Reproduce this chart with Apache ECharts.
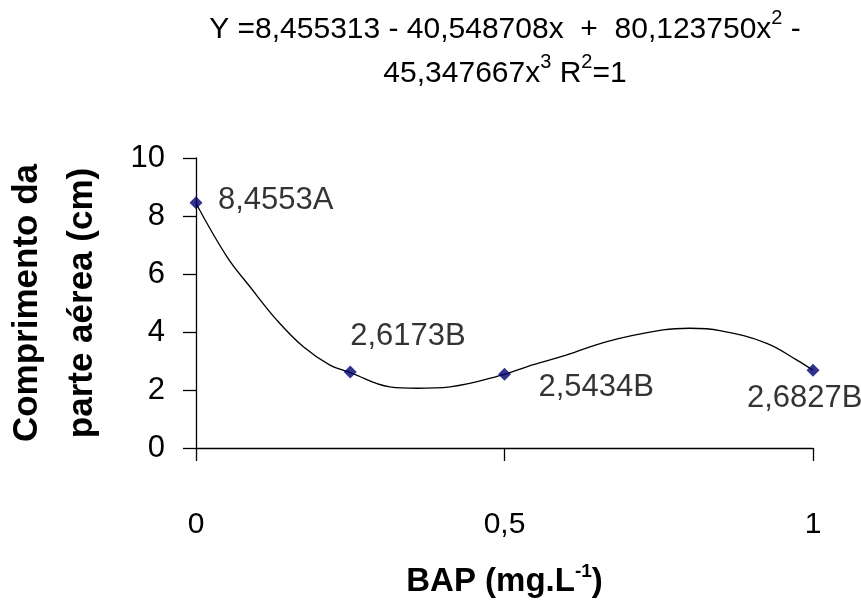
<!DOCTYPE html>
<html>
<head>
<meta charset="utf-8">
<script src="https://cdn.jsdelivr.net/npm/echarts@6/dist/echarts.min.js"></script>
<style>
  html, body { margin: 0; padding: 0; background: #fff; }
  #chart { width: 861px; height: 605px; }
</style>
</head>
<body>
<div id="chart"></div>
<script>
// Observed treatment means
var doseX = [0, 0.25, 0.5, 1];
var meanY = [8.4553, 2.6173, 2.5434, 2.6827];
var meanLabels = ['8,4553A', '2,6173B', '2,5434B', '2,6827B'];

// Fitted curve
var curveX = [0, 0.05, 0.0875, 0.131, 0.174, 0.217, 0.25, 0.314, 0.358, 0.412, 0.5, 0.536, 0.6, 0.666, 0.757, 0.80, 0.849, 0.925, 0.974, 1];
var curveY = [8.44, 6.6, 5.56, 4.41, 3.49, 2.86, 2.6, 2.11, 2.06, 2.11, 2.54, 2.80, 3.2, 3.67, 4.07, 4.13, 4.05, 3.61, 3.03, 2.68];

// Axis ticks
var xTicks = [0, 0.5, 1];
var yTicks = [0, 2, 4, 6, 8, 10];

var FONT = '"Liberation Sans", Arial, sans-serif';

var chart = echarts.init(document.getElementById('chart'), null, { renderer: 'canvas' });

var labelPlacement = [
  { position: [28.5, 4] },
  { position: [6.5, -29.5] },
  { position: [40.5, 19.5] },
  { position: [-59.5, 34.5] }
];

var pointData = doseX.map(function (x, i) {
  return {
    value: [x, meanY[i]],
    label: {
      show: true,
      position: labelPlacement[i].position,
      align: 'left',
      verticalAlign: 'middle',
      formatter: meanLabels[i]
    }
  };
});

var curveData = curveX.map(function (x, i) { return [x, curveY[i]]; });

var option = {
  backgroundColor: '#ffffff',
  animation: false,
  title: {
    left: 500,
    top: 3,
    textAlign: 'center',
    text: '{n|Y =8,455313 - 40,548708x  +  80,123750x}{s|2}{n| -}\n{n|45,347667x}{s|3}{n| R}{s|2}{n|=1}',
    textStyle: {
      fontFamily: FONT,
      fontSize: 30,
      fontWeight: 'normal',
      color: '#000',
      lineHeight: 44,
      rich: {
        n: { fontFamily: FONT, fontSize: 30, lineHeight: 44, color: '#000' },
        s: { fontFamily: FONT, fontSize: 20, lineHeight: 36, verticalAlign: 'top', color: '#000' }
      }
    }
  },
  grid: {
    left: 196,
    right: 48,
    top: 158,
    bottom: 157,
    outerBoundsMode: 'none',
    containLabel: false
  },
  xAxis: {
    type: 'value',
    min: xTicks[0],
    max: xTicks[xTicks.length - 1],
    interval: 0.5,
    name: '{b|BAP (mg.L}{s|-1}{b|)}',
    nameLocation: 'middle',
    nameGap: 114,
    nameTextStyle: {
      rich: {
        b: { fontFamily: FONT, fontSize: 33, fontWeight: 'bold', color: '#000', lineHeight: 40 },
        s: { fontFamily: FONT, fontSize: 19, fontWeight: 'bold', color: '#000', lineHeight: 26, verticalAlign: 'top' }
      }
    },
    axisLine: { show: true, lineStyle: { color: '#000', width: 1.3 } },
    axisTick: { show: true, inside: false, length: 13, lineStyle: { color: '#000', width: 1.3 } },
    splitLine: { show: false },
    axisLabel: {
      margin: 62,
      fontFamily: FONT,
      fontSize: 30,
      color: '#000',
      formatter: function (v) { return String(v).replace('.', ','); }
    }
  },
  yAxis: {
    type: 'value',
    min: yTicks[0],
    max: yTicks[yTicks.length - 1],
    interval: 2,
    name: 'Comprimento da\nparte aérea (cm)',
    nameLocation: 'middle',
    nameRotate: 90,
    nameGap: 86,
    nameTextStyle: {
      fontFamily: FONT,
      fontSize: 35,
      fontWeight: 'bold',
      color: '#000',
      lineHeight: 55
    },
    axisLine: { show: true, lineStyle: { color: '#000', width: 1.3 } },
    axisTick: { show: true, inside: false, length: 13, lineStyle: { color: '#000', width: 1.3 } },
    splitLine: { show: false },
    axisLabel: {
      margin: 31,
      fontFamily: FONT,
      fontSize: 31,
      color: '#000'
    }
  },
  series: [
    {
      type: 'line',
      name: 'curve',
      data: curveData,
      smooth: 0.4,
      showSymbol: false,
      symbol: 'none',
      lineStyle: { color: '#000', width: 1.3 },
      z: 2,
      silent: true
    },
    {
      type: 'scatter',
      name: 'means',
      data: pointData,
      symbol: 'diamond',
      symbolSize: 13,
      itemStyle: { color: '#00006e' },
      label: {
        fontFamily: FONT,
        fontSize: 31,
        color: '#000'
      },
      z: 3
    }
  ]
};

chart.setOption(option);
</script>
</body>
</html>
